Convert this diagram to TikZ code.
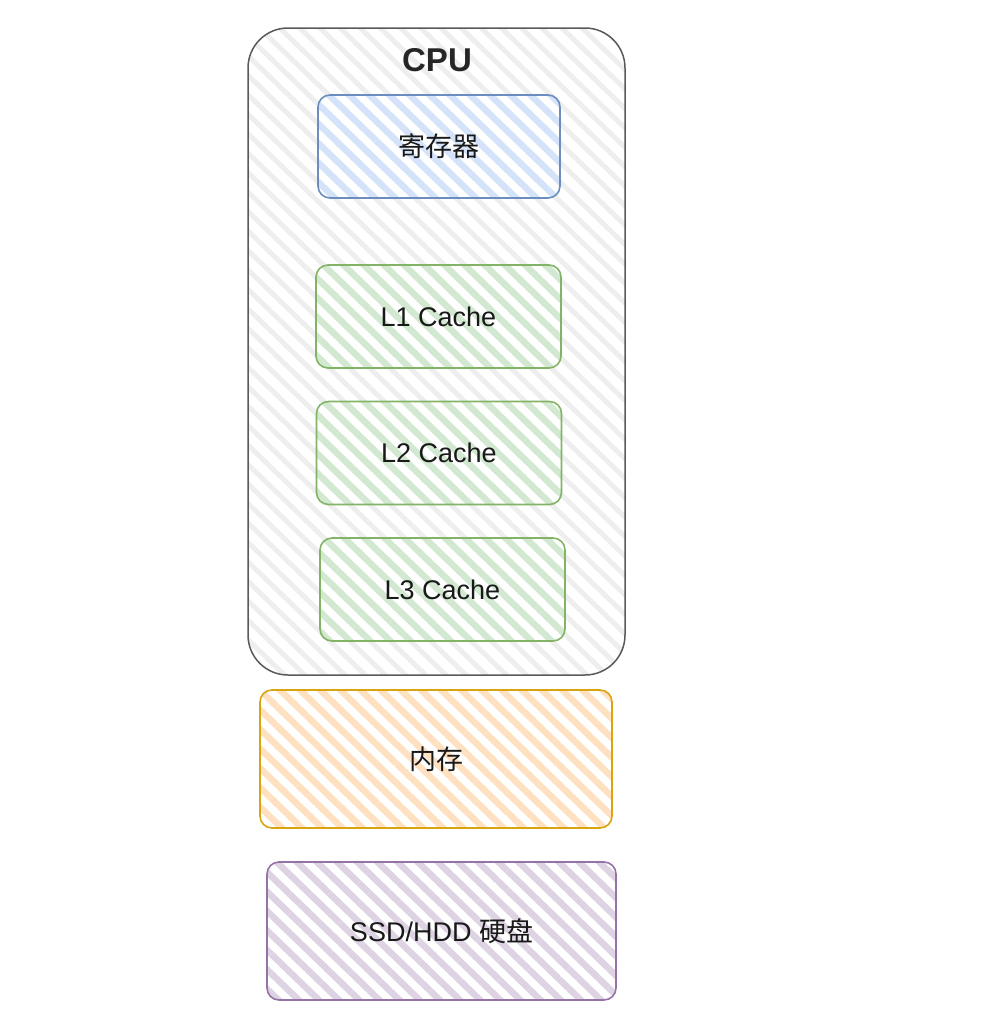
\documentclass[tikz,border=0pt]{standalone}
\usepackage{fontspec}
\setmainfont{Liberation Sans}
\newfontfamily\cjk{Noto Sans CJK SC}
\usetikzlibrary{patterns.meta}
\definecolor{cpuline}{HTML}{5A5A5A}
\definecolor{cpufill}{HTML}{EEEEEE}
\definecolor{regline}{HTML}{6C8EBF}
\definecolor{regfill}{HTML}{D4E3FA}
\definecolor{cacheline}{HTML}{82B366}
\definecolor{cachefill}{HTML}{D2E8D0}
\definecolor{memline}{HTML}{D9A410}
\definecolor{memfill}{HTML}{FFE0C0}
\definecolor{diskline}{HTML}{9673A6}
\definecolor{diskfill}{HTML}{DDD3E3}
\tikzset{
  box/.style={line width=1.6pt, rounded corners=12pt, inner sep=0pt,
    text=black!90, font=\fontsize{27}{32}\selectfont},
  hatch/.style={pattern={Lines[angle=-44,distance=14pt,line width=6.5pt]}, pattern color=#1},
  regbox/.style={box, draw=regline, hatch=regfill, minimum width=242pt, minimum height=103pt},
  cachebox/.style={box, draw=cacheline, hatch=cachefill, minimum width=245pt, minimum height=103pt},
  membox/.style={box, draw=memline, hatch=memfill, minimum width=352pt, minimum height=138pt},
  diskbox/.style={box, draw=diskline, hatch=diskfill, minimum width=349pt, minimum height=138pt}
}
\begin{document}
\begin{tikzpicture}[x=1pt,y=-1pt]
    \useasboundingbox (0,0) rectangle (993,1023);
    \node[draw=cpuline, line width=1.5pt, rounded corners=40pt, inner sep=0pt,
          pattern={Lines[angle=-44,distance=14pt,line width=5pt]}, pattern color=cpufill,
          minimum width=377pt, minimum height=647pt] (cpu) at (436.5,351.5) {};
    \node[font=\fontsize{33}{38}\selectfont\bfseries, text=black!85] (cpulabel) at (437,60) {CPU};
    \node[regbox] (reg) at (439,146.5) {\cjk 寄存器};
    \node[cachebox] (lone) at (438.5,316.5) {L1 Cache};
    \node[cachebox] (ltwo) at (439,453) {L2 Cache};
    \node[cachebox] (lthree) at (442.5,589.5) {L3 Cache};
    \node[membox] (mem) at (436,759) {\cjk 内存};
    \node[diskbox] (disk) at (441.5,931) {SSD/HDD {\cjk 硬盘}};
\end{tikzpicture}
\end{document}
